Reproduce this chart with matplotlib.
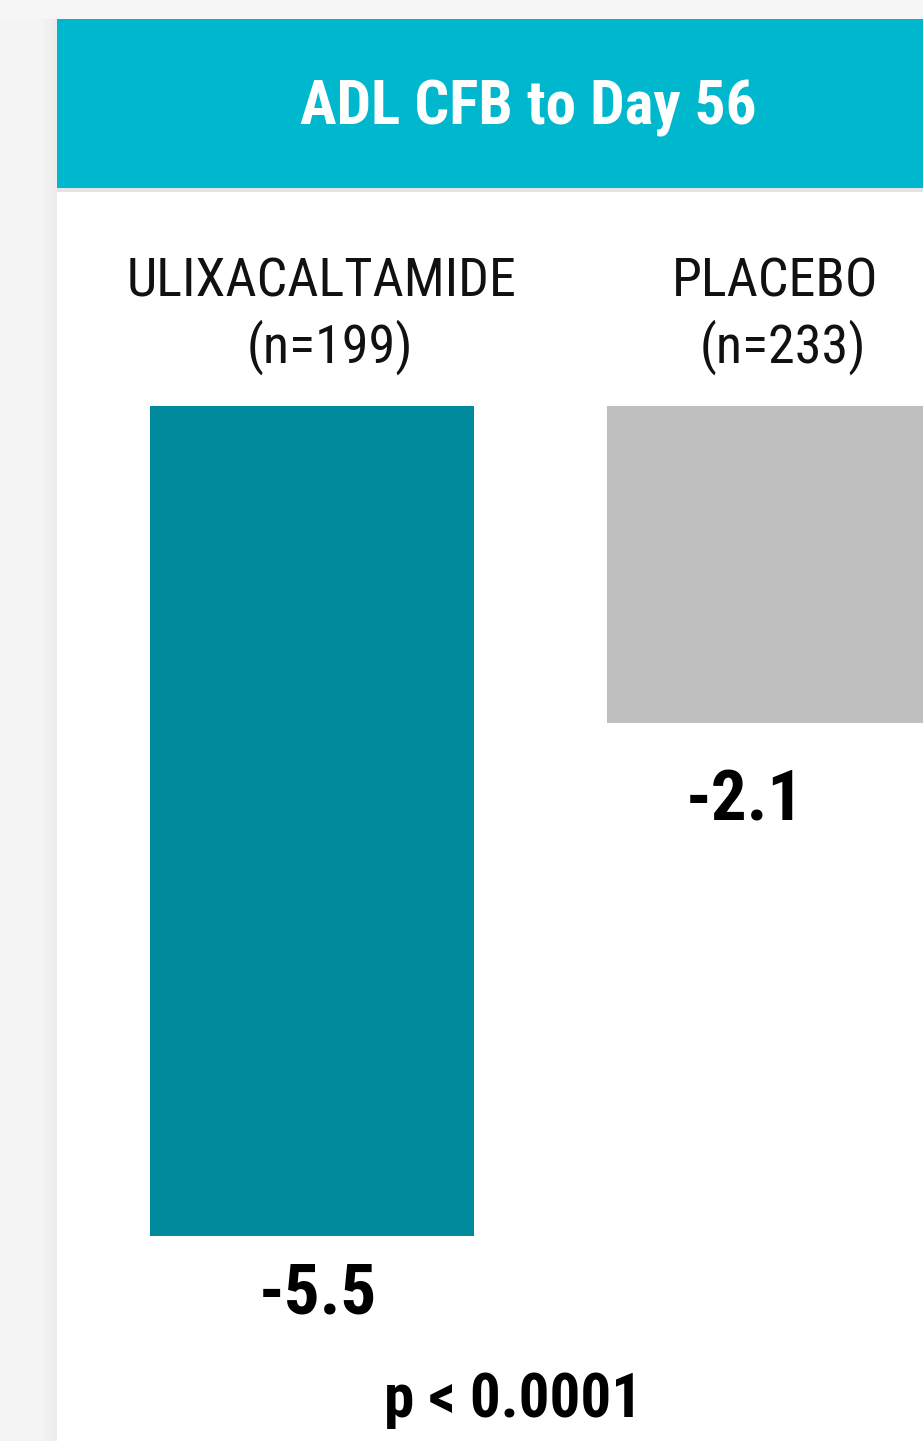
import numpy as np
import matplotlib.pyplot as plt
from matplotlib import font_manager
from matplotlib.patches import Rectangle

# pick a narrow face if one is around, else plain Roboto
nomes = {f.name for f in font_manager.fontManager.ttflist}
fonte = 'Roboto'
for cand in ['Roboto Condensed', 'Liberation Sans Narrow']:
    if cand in nomes:
        fonte = cand
        break

# dados
grupos = ['ULIXACALTAMIDE', 'PLACEBO']
n_grupo = [199, 233]
cfb = [-5.5, -2.1]
rotulos = ['-5.5', '-2.1']
titulo = 'ADL CFB to Day 56'
p_valor = 'p < 0.0001'

W, H = 923, 1441
fig = plt.figure(figsize=(W / 100, H / 100), dpi=100)
fig.patch.set_facecolor('white')

def px(x0, y0, x1, y1):
    # pixel box -> figure fraction (left, bottom, width, height)
    return (x0 / W, 1 - y1 / H, (x1 - x0) / W, (y1 - y0) / H)

# fundo cinza da pagina
for x0, y0, x1, y1, c in [(0, 0, 57, H, '#f4f4f4'), (0, 0, W, 19, '#f6f6f6'),
                          (44, 19, 57, H, '#f0f0f0'), (52, 19, 57, H, '#ececec')]:
    l, b, w, h = px(x0, y0, x1, y1)
    fig.patches.append(Rectangle((l, b), w, h, transform=fig.transFigure,
                                 facecolor=c, edgecolor='none', zorder=0))

# faixa do titulo
l, b, w, h = px(57, 19, W, 188)
fig.patches.append(Rectangle((l, b), w, h, transform=fig.transFigure,
                             facecolor='#00b8cd', edgecolor='none', zorder=1))
l, b, w, h = px(57, 188, W, 192)
fig.patches.append(Rectangle((l, b), w, h, transform=fig.transFigure,
                             facecolor='#e4e4e4', edgecolor='none', zorder=1))
fig.text(528 / W, 1 - 108 / H, titulo, color='white', fontsize=44,
         fontweight='bold', family=fonte, ha='center', va='center')

# barras
ax = fig.add_axes(px(57, 406, W, H))
ax.set_facecolor('none')
x = np.arange(len(grupos))
escala = 830 / 5.5
ax.bar(x, cfb, width=324 / 457, color=['#008a9b', '#bfbfbf'], align='center')
ax.set_xlim(-(312 - 57) / 457, 1 + (W - 769) / 457)
ax.set_ylim(-(H - 406) / escala, 0)
ax.axis('off')

# deslocamentos dos textos (px)
dx_nome = [10, 6]
dx_n = [18, 14]
dx_val = [6, -24]
dy_val = [58, 78]
for i in x:
    ax.text(i + dx_nome[i] / 457, 1.0 + (406 - 282) / (H - 406), grupos[i],
            transform=ax.get_xaxis_transform(), ha='center', va='center',
            fontsize=39, family=fonte, color='#111111')
    ax.text(i + dx_n[i] / 457, 1.0 + (406 - 347) / (H - 406), f'(n={n_grupo[i]})',
            transform=ax.get_xaxis_transform(), ha='center', va='center',
            fontsize=39, family=fonte, color='#111111')
    ax.text(i + dx_val[i] / 457, cfb[i] - dy_val[i] / escala, rotulos[i],
            ha='center', va='center', fontsize=51, fontweight='bold',
            family=fonte, color='black')

fig.text(513 / W, 1 - 1400 / H, p_valor, fontsize=44, fontweight='bold',
         family=fonte, ha='center', va='center', color='black')

plt.savefig('out.png', dpi=100, facecolor=fig.get_facecolor())
